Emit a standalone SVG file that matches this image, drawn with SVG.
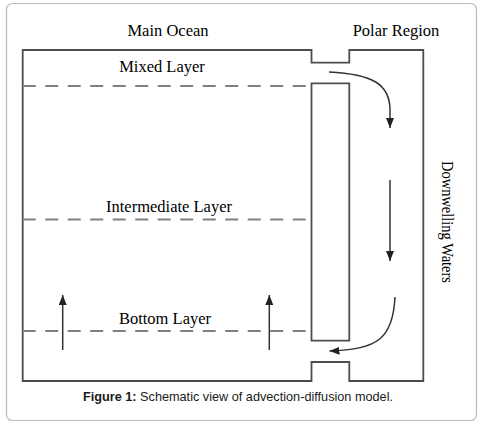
<svg xmlns="http://www.w3.org/2000/svg" width="483" height="427" viewBox="0 0 483 427">
<defs>
<style>
.wall{fill:none;stroke:#4d4d4d;stroke-width:1.8;stroke-linejoin:miter}
.dash{fill:none;stroke:#808080;stroke-width:2;stroke-dasharray:13 9.5}
.flow{fill:none;stroke:#333;stroke-width:1.5}
.lbl{font-family:"Liberation Serif","Times New Roman",serif;font-size:16.5px;fill:#000;text-anchor:middle}
.cap{font-family:"Liberation Sans",Arial,sans-serif;font-size:12.7px;fill:#1a1a1a;text-anchor:middle}
</style>
<marker id="ah" viewBox="0 0 10 8" refX="10" refY="4" markerWidth="10" markerHeight="8" markerUnits="userSpaceOnUse" orient="auto">
<path d="M0,0 L10,4 L0,8 Z" fill="#222"/>
</marker>
</defs>
<rect x="6.5" y="3.5" width="470" height="417" rx="6" fill="#fff" stroke="#bbb" stroke-width="1.2"/>
<g id="ocean-box">
<path class="wall" d="M311.5,50 L22.7,50 L22.7,381 L311.5,381 L311.5,362 L349.3,362 L349.3,381 L423.3,381 L423.3,50 L349.3,50 L349.3,62.7 L311.5,62.7 Z"/>
</g>
<g id="barrier">
<path class="wall" d="M311.5,86 L311.5,83.3 L349.3,83.3 L349.3,340.7 L311.5,340.7 Z"/>
</g>
<g id="layers">
<line class="dash" x1="22.7" y1="86" x2="311.5" y2="86"/>
<line class="dash" x1="22.7" y1="219.5" x2="311.5" y2="219.5"/>
<line class="dash" x1="22.7" y1="331" x2="311.5" y2="331"/>
</g>
<g id="labels">
<text class="lbl" x="168" y="36">Main Ocean</text>
<text class="lbl" x="396" y="36">Polar Region</text>
<text class="lbl" x="162" y="72">Mixed Layer</text>
<text class="lbl" x="169" y="212">Intermediate Layer</text>
<text class="lbl" x="165" y="324">Bottom Layer</text>
<text class="lbl" transform="translate(441.5,222) rotate(90)" textLength="122" lengthAdjust="spacingAndGlyphs">Downwelling Waters</text>
</g>
<g id="connectors">
<path class="flow" marker-end="url(#ah)" d="M329,72 C372,74 390,84 390,110 L390,128"/>
<path class="flow" marker-end="url(#ah)" d="M390,180 L390,261"/>
<path class="flow" marker-end="url(#ah)" d="M395,297 C393,338 378,350 329.5,351"/>
<path class="flow" marker-end="url(#ah)" d="M62.7,350 L62.7,295"/>
<path class="flow" marker-end="url(#ah)" d="M269.3,350 L269.3,295"/>
</g>
<g id="caption">
<text class="cap" x="238" y="401"><tspan font-weight="bold">Figure 1:</tspan> Schematic view of advection-diffusion model.</text>
</g>
</svg>
